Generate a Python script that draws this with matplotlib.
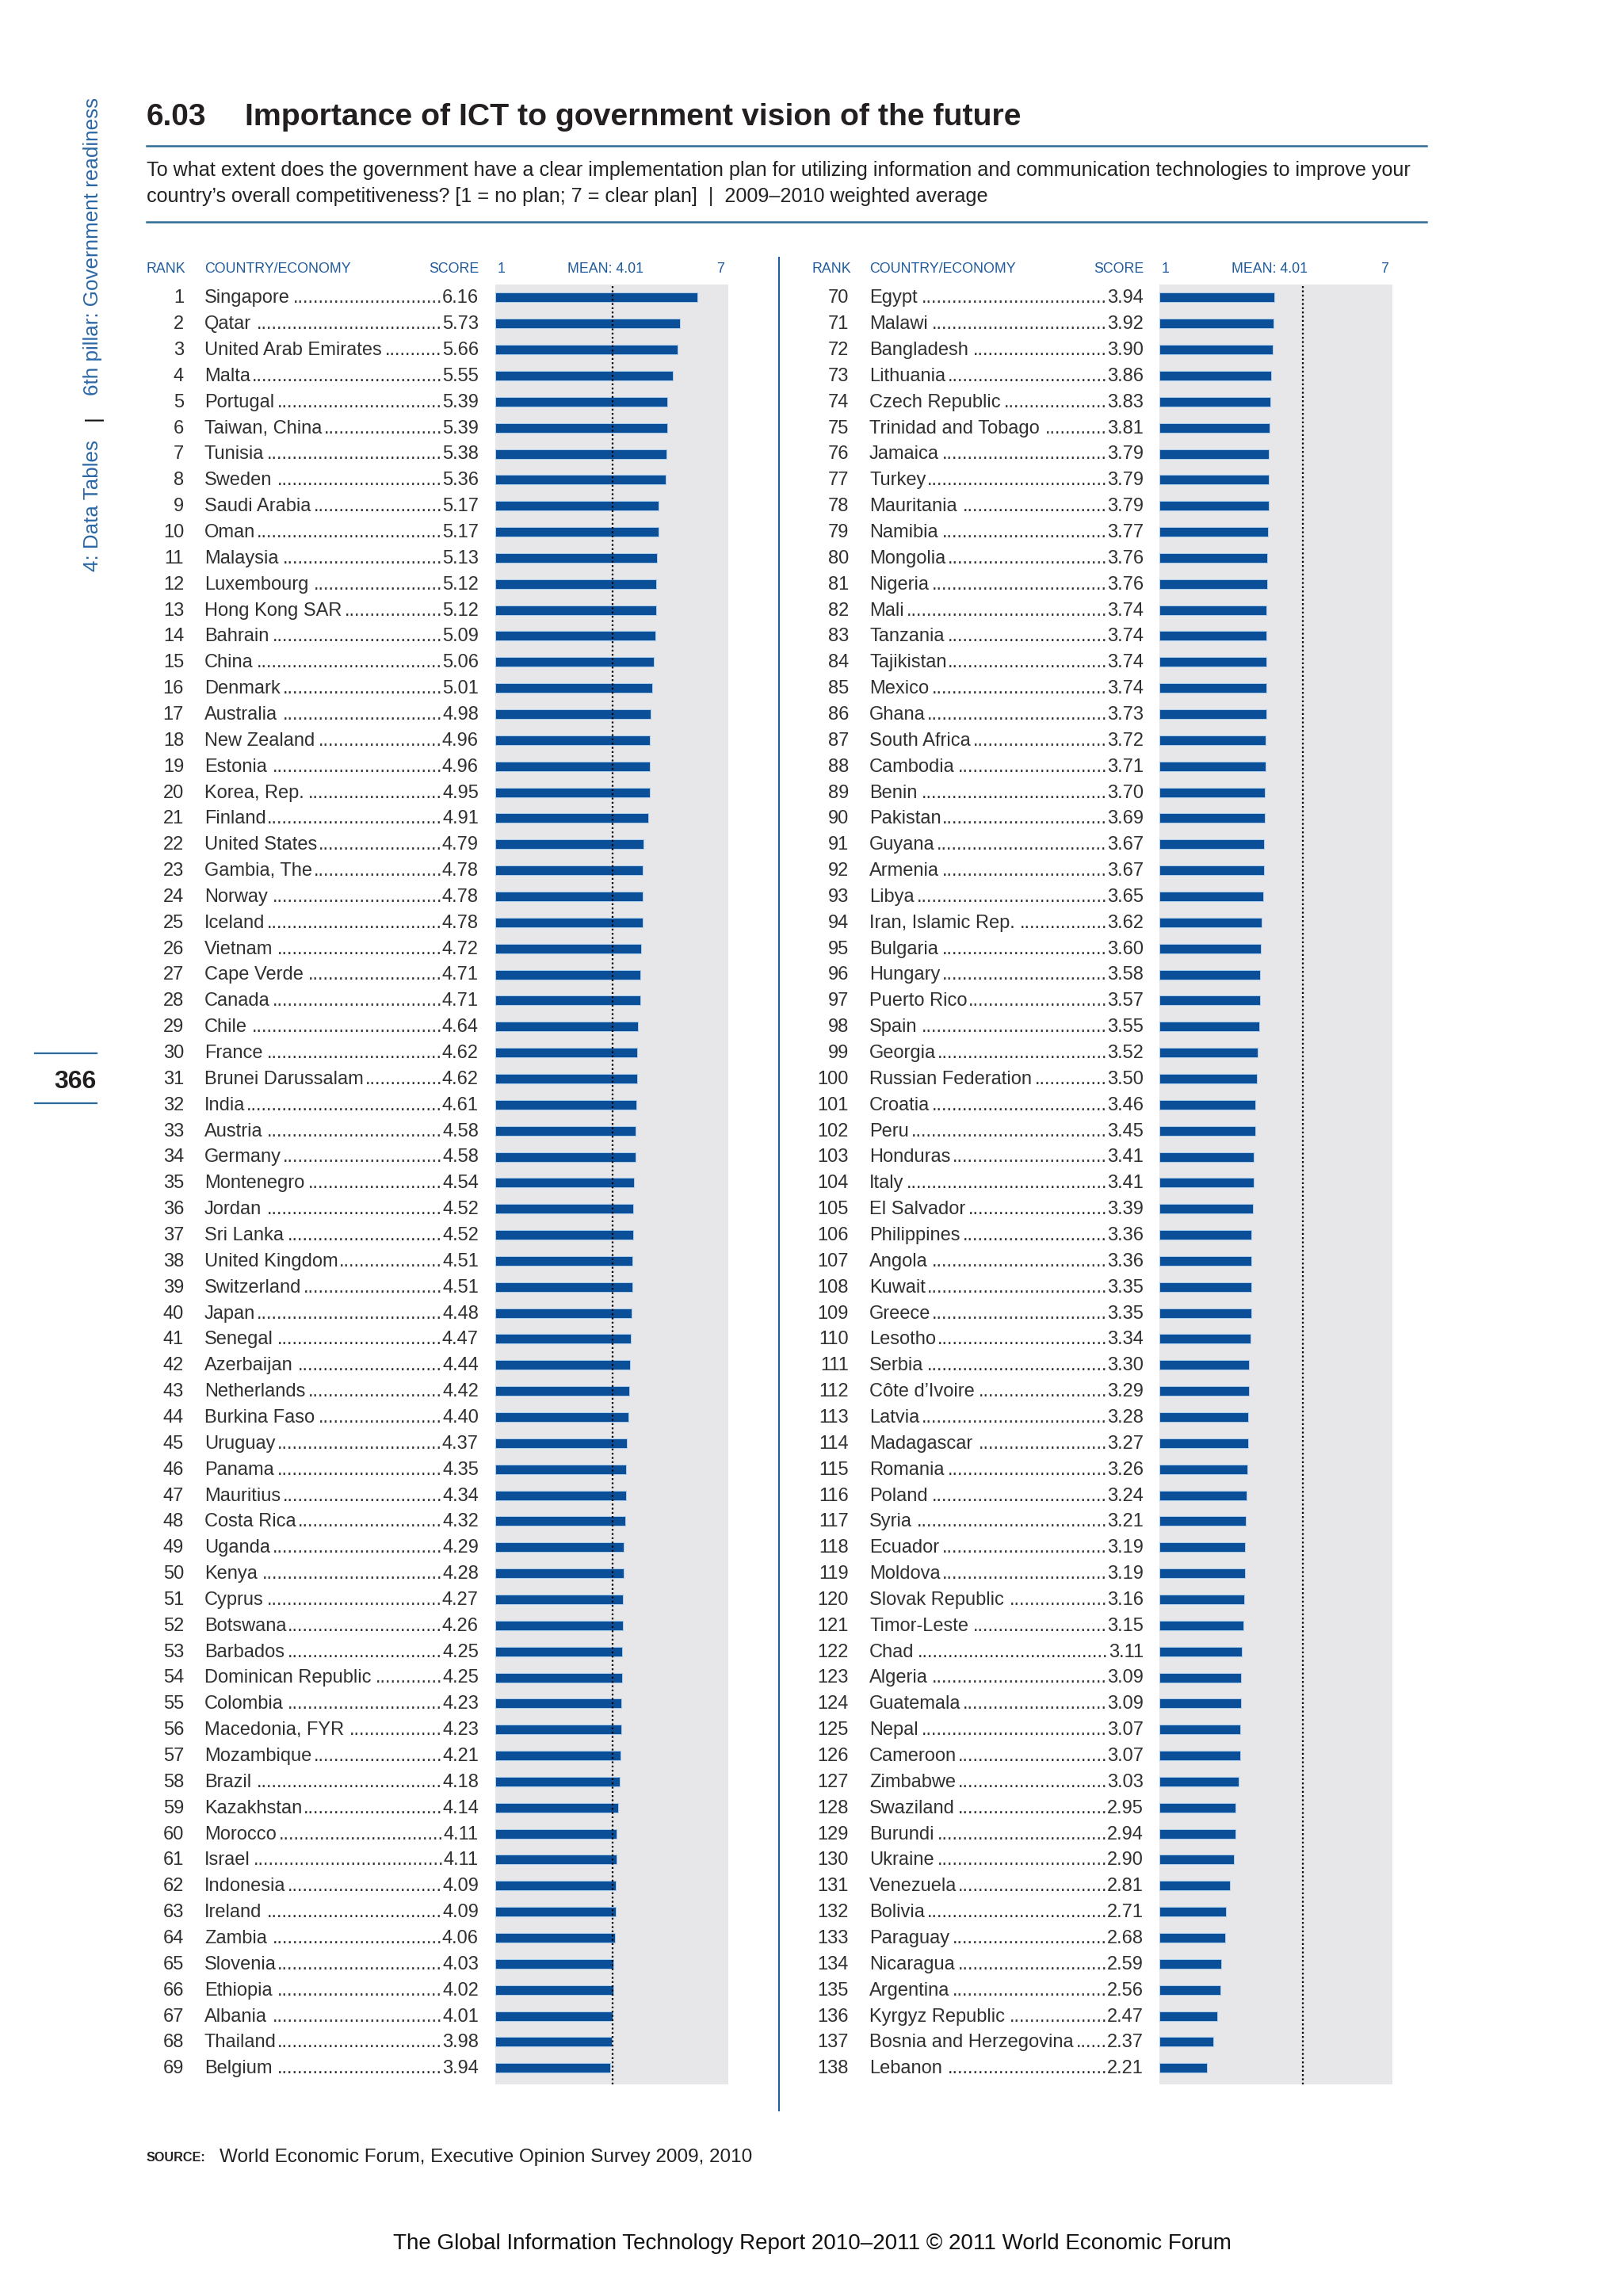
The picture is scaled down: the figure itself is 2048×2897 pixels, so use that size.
import matplotlib
matplotlib.use("Agg")
import matplotlib.pyplot as plt
from matplotlib import transforms as mtrans

# ---------------- data ----------------
left_ranks = list(range(1, 70))
left_names = ["Singapore", "Qatar", "United Arab Emirates", "Malta", "Portugal", "Taiwan, China",
              "Tunisia", "Sweden", "Saudi Arabia", "Oman", "Malaysia", "Luxembourg", "Hong Kong SAR",
              "Bahrain", "China", "Denmark", "Australia", "New Zealand", "Estonia", "Korea, Rep.",
              "Finland", "United States", "Gambia, The", "Norway", "Iceland", "Vietnam", "Cape Verde",
              "Canada", "Chile", "France", "Brunei Darussalam", "India", "Austria", "Germany",
              "Montenegro", "Jordan", "Sri Lanka", "United Kingdom", "Switzerland", "Japan", "Senegal",
              "Azerbaijan", "Netherlands", "Burkina Faso", "Uruguay", "Panama", "Mauritius",
              "Costa Rica", "Uganda", "Kenya", "Cyprus", "Botswana", "Barbados", "Dominican Republic",
              "Colombia", "Macedonia, FYR", "Mozambique", "Brazil", "Kazakhstan", "Morocco", "Israel",
              "Indonesia", "Ireland", "Zambia", "Slovenia", "Ethiopia", "Albania", "Thailand", "Belgium"]
left_scores = [6.16, 5.73, 5.66, 5.55, 5.39, 5.39, 5.38, 5.36, 5.17, 5.17, 5.13, 5.12, 5.12, 5.09,
               5.06, 5.01, 4.98, 4.96, 4.96, 4.95, 4.91, 4.79, 4.78, 4.78, 4.78, 4.72, 4.71, 4.71,
               4.64, 4.62, 4.62, 4.61, 4.58, 4.58, 4.54, 4.52, 4.52, 4.51, 4.51, 4.48, 4.47, 4.44,
               4.42, 4.40, 4.37, 4.35, 4.34, 4.32, 4.29, 4.28, 4.27, 4.26, 4.25, 4.25, 4.23, 4.23,
               4.21, 4.18, 4.14, 4.11, 4.11, 4.09, 4.09, 4.06, 4.03, 4.02, 4.01, 3.98, 3.94]

right_ranks = list(range(70, 139))
right_names = ["Egypt", "Malawi", "Bangladesh", "Lithuania", "Czech Republic", "Trinidad and Tobago",
               "Jamaica", "Turkey", "Mauritania", "Namibia", "Mongolia", "Nigeria", "Mali", "Tanzania",
               "Tajikistan", "Mexico", "Ghana", "South Africa", "Cambodia", "Benin", "Pakistan",
               "Guyana", "Armenia", "Libya", "Iran, Islamic Rep.", "Bulgaria", "Hungary",
               "Puerto Rico", "Spain", "Georgia", "Russian Federation", "Croatia", "Peru", "Honduras",
               "Italy", "El Salvador", "Philippines", "Angola", "Kuwait", "Greece", "Lesotho", "Serbia",
               "Côte d\u2019Ivoire", "Latvia", "Madagascar", "Romania", "Poland", "Syria", "Ecuador",
               "Moldova", "Slovak Republic", "Timor-Leste", "Chad", "Algeria", "Guatemala", "Nepal",
               "Cameroon", "Zimbabwe", "Swaziland", "Burundi", "Ukraine", "Venezuela", "Bolivia",
               "Paraguay", "Nicaragua", "Argentina", "Kyrgyz Republic", "Bosnia and Herzegovina",
               "Lebanon"]
right_scores = [3.94, 3.92, 3.90, 3.86, 3.83, 3.81, 3.79, 3.79, 3.79, 3.77, 3.76, 3.76, 3.74, 3.74,
                3.74, 3.74, 3.73, 3.72, 3.71, 3.70, 3.69, 3.67, 3.67, 3.65, 3.62, 3.60, 3.58, 3.57,
                3.55, 3.52, 3.50, 3.46, 3.45, 3.41, 3.41, 3.39, 3.36, 3.36, 3.35, 3.35, 3.34, 3.30,
                3.29, 3.28, 3.27, 3.26, 3.24, 3.21, 3.19, 3.19, 3.16, 3.15, 3.11, 3.09, 3.09, 3.07,
                3.07, 3.03, 2.95, 2.94, 2.90, 2.81, 2.71, 2.68, 2.59, 2.56, 2.47, 2.37, 2.21]

MEAN = 4.01
# where the dotted mean marker appears in each panel of the original page
mean_marker = [4.01, 4.67]
scale_min, scale_max = 1, 7

# ---------------- figure ----------------
W, H, DPI = 2048, 2897, 200
plt.rcParams["font.family"] = ["Liberation Sans", "DejaVu Sans"]
fig = plt.figure(figsize=(W / DPI, H / DPI), dpi=DPI)
fig.patch.set_facecolor("white")
R = fig.canvas.get_renderer()

def fx(x):
    return x / W

def fy(y):
    return 1 - y / H

def wid(t):
    return t.get_window_extent(renderer=R).width

def fit(x, y, s, target, **kw):
    t = fig.text(fx(x), fy(y), s, fontsize=10, **kw)
    t.set_fontsize(10 * target / wid(t))
    return t

BLUE_HEAD = "#1f5b9b"
RULE = "#2f6d99"
TXT = "#303030"
BAR = "#0b4f98"
PANEL = "#e7e7e9"

# ---------------- title block ----------------
fig.text(fx(185), fy(158), "6.03", fontsize=14.0, fontweight="bold", color="#231f20")
fit(309, 158, "Importance of ICT to government vision of the future", 983,
    fontweight="bold", color="#231f20")
fig.add_artist(plt.Line2D([fx(185), fx(1800)], [fy(184), fy(184)], color=RULE, lw=0.9))
fig.add_artist(plt.Line2D([fx(185), fx(1800)], [fy(280), fy(280)], color=RULE, lw=0.9))
t1 = fit(185, 222, "To what extent does the government have a clear implementation plan for utilizing "
         "information and communication technologies to improve your", 1588, color="#222222")
fig.text(fx(185), fy(254.5), "country\u2019s overall competitiveness? [1 = no plan; 7 = clear plan]  |  "
         "2009\u20132010 weighted average", fontsize=t1.get_fontsize(), color="#222222")

# ---------------- side text ----------------
side_parts = ["4: Data Tables", "|", "6th pillar: Government readiness"]
side_cols = ["#2a67a6", "#111111", "#2a67a6"]
tmp = [fig.text(0, 0, s, fontsize=10) for s in side_parts]
ws = [wid(t) for t in tmp]
for t in tmp:
    t.remove()
total = 597
fs_side = 10 * (total - 50) / sum(ws)
ws = [w * fs_side / 10 for w in ws]
gap = (total - sum(ws)) / 2
fs_px = fs_side * DPI / 72
xb = 115 + 0.36 * fs_px
ypos = 721
for s, c, w in zip(side_parts, side_cols, ws):
    fig.text(fx(xb), fy(ypos), s, fontsize=fs_side, color=c, rotation=90,
             rotation_mode="anchor", ha="left", va="baseline")
    ypos -= w + gap

# page number
fig.add_artist(plt.Line2D([fx(44), fx(122)], [fy(1329), fy(1329)], color="#2b6a9c", lw=0.8))
fig.add_artist(plt.Line2D([fx(44), fx(122)], [fy(1392), fy(1392)], color="#2b6a9c", lw=0.8))
fig.text(fx(122), fy(1373), "366", fontsize=11.5, fontweight="bold", ha="right", color="#231f20")

# ---------------- panels ----------------
ROW_FS = 8.5
HEAD_FS = 6.4
panels = [
    dict(ranks=left_ranks, names=left_names, scores=left_scores, bar_left=625,
         rank_head=185, rank_right=232, name_left=258, score_right=604, mean=mean_marker[0]),
    dict(ranks=right_ranks, names=right_names, scores=right_scores, bar_left=1463,
         rank_head=1024.5, rank_right=1071, name_left=1097, score_right=1443, mean=mean_marker[1]),
]

tmpdot = fig.text(0, 0, "." * 100, fontsize=ROW_FS)
dot_w = wid(tmpdot) / 100
tmpdot.remove()

for p in panels:
    bl = p["bar_left"]
    ax = fig.add_axes([fx(bl), fy(2630), 294 / W, (2630 - 359) / H])
    ax.set_facecolor(PANEL)
    for s in ax.spines.values():
        s.set_visible(False)
    ax.set_xticks([])
    ax.set_yticks([])
    n = len(p["scores"])
    ax.set_xlim(scale_min, 6.96)
    ax.set_ylim(n - 1 + 0.63, -0.5)
    ypos_rows = list(range(n))
    ax.barh(ypos_rows, [s - scale_min for s in p["scores"]], left=scale_min, height=0.365,
            color=BAR, edgecolor="#a8cdee", linewidth=0.35, zorder=2)
    ax.axvline(p["mean"], color="black", lw=0.8, ls=(0, (1, 1.4)), zorder=3)

    # headers
    hb = 343.5
    fig.text(fx(p["rank_head"]), fy(hb), "RANK", fontsize=HEAD_FS, color=BLUE_HEAD)
    fig.text(fx(p["name_left"]), fy(hb), "COUNTRY/ECONOMY", fontsize=HEAD_FS, color=BLUE_HEAD)
    fig.text(fx(p["score_right"]), fy(hb), "SCORE", fontsize=HEAD_FS, color=BLUE_HEAD, ha="right")
    fig.text(fx(bl + 3), fy(hb), str(scale_min), fontsize=HEAD_FS, color=BLUE_HEAD)
    fig.text(fx(bl + 139), fy(hb), f"MEAN: {MEAN:.2f}", fontsize=HEAD_FS, color=BLUE_HEAD, ha="center")
    fig.text(fx(bl + 284), fy(hb), str(scale_max), fontsize=HEAD_FS, color=BLUE_HEAD, ha="center")

    base = mtrans.blended_transform_factory(fig.transFigure, ax.transData)
    tr = mtrans.offset_copy(base, fig=fig, y=-2.5, units="points")
    for i, (rk, nm, sc) in enumerate(zip(p["ranks"], p["names"], p["scores"])):
        fig.text(fx(p["rank_right"]), i, str(rk), transform=tr, fontsize=ROW_FS, color=TXT,
                 ha="right", va="baseline")
        tn = fig.text(fx(p["name_left"]), i, nm, transform=tr, fontsize=ROW_FS, color=TXT,
                      ha="left", va="baseline")
        ts = fig.text(fx(p["score_right"]), i, f"{sc:.2f}", transform=tr, fontsize=ROW_FS,
                      color=TXT, ha="right", va="baseline")
        nr = tn.get_window_extent(renderer=R).x1
        sl = ts.get_window_extent(renderer=R).x0
        nd = int((sl - nr - 1) / dot_w)
        if nd > 0:
            fig.text(sl / W, i, "." * nd, transform=tr, fontsize=ROW_FS, color=TXT,
                     ha="right", va="baseline")

# divider
fig.add_artist(plt.Line2D([fx(983), fx(983)], [fy(325), fy(2663)], color="#1d5ea0", lw=0.75))

# ---------------- source & footer ----------------
fit(185, 2727, "SOURCE:", 75, fontweight="bold", color="#231f20")
fit(277, 2728, "World Economic Forum, Executive Opinion Survey 2009, 2010", 673, color="#222222")
fit(496, 2838, "The Global Information Technology Report 2010\u20132011 \u00a9 2011 World Economic Forum",
    1058, color="#111111")

fig.savefig("out.png", dpi=DPI, facecolor="white")
